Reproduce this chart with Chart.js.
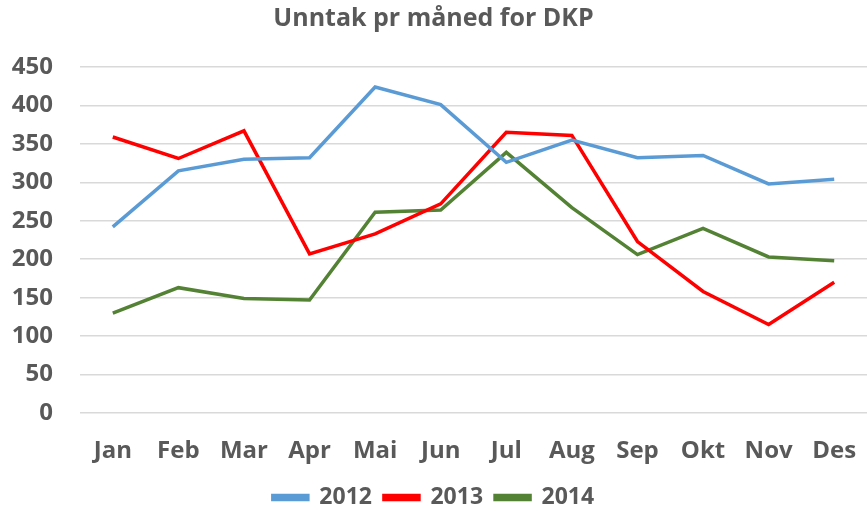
<!DOCTYPE html>
<html>
<head>
<meta charset="utf-8">
<script src="https://cdn.jsdelivr.net/npm/chart.js@4/dist/chart.umd.min.js"></script>
<style>
  html, body { margin: 0; padding: 0; background: #fff; }
  #wrap { width: 867px; height: 511px; }
</style>
</head>
<body>
<div id="wrap"><canvas id="chart" width="867" height="511"></canvas></div>
<script>
var months = ["Jan", "Feb", "Mar", "Apr", "Mai", "Jun", "Jul", "Aug", "Sep", "Okt", "Nov", "Des"];
var data2012 = [242, 315, 330, 332, 424, 401, 326, 355, 332, 335, 298, 304];
var data2013 = [359, 331, 367, 207, 233, 272, 365, 361, 223, 158, 115, 170];
var data2014 = [130, 163, 149, 147, 261, 264, 339, 267, 206, 240, 203, 198];

var textColor = "#595959";
var fontFamily = "'Open Sans', Lato, sans-serif";

var ctx = document.getElementById("chart").getContext("2d");

function series(label, values, color) {
    return {
        label: label,
        data: values,
        borderColor: color,
        backgroundColor: color,
        borderWidth: 3.5,
        pointRadius: 0,
        tension: 0,
        fill: false
    };
}

var chart = new Chart(ctx, {
    type: "line",
    data: {
        labels: months,
        datasets: [
            series("2012", data2012, "#5B9BD5"),
            series("2013", data2013, "#FF0000"),
            series("2014", data2014, "#548235")
        ]
    },
    options: {
        responsive: false,
        animation: false,
        layout: { padding: { left: 0, right: 0, top: 0, bottom: -8 } },
        plugins: {
            title: {
                display: true,
                text: "Unntak pr måned for DKP",
                color: textColor,
                font: { family: fontFamily, size: 25, weight: "bold" },
                padding: { top: 4, bottom: 33 }
            },
            legend: {
                position: "bottom",
                labels: {
                    color: textColor,
                    font: { family: fontFamily, size: 23, weight: "bold" },
                    boxWidth: 35,
                    boxHeight: 4,
                    padding: 12
                }
            },
            tooltip: { enabled: false }
        },
        scales: {
            x: {
                offset: true,
                grid: { display: false, drawTicks: false },
                border: { display: false },
                ticks: {
                    color: textColor,
                    font: { family: fontFamily, size: 24, weight: "bold" },
                    padding: 24,
                    maxRotation: 0
                },
                afterFit: function(scale) {
                    // fixed height, and no extra right padding from tick padding
                    scale.height = 61;
                    scale.paddingLeft = 0;
                    scale.paddingRight = 0;
                }
            },
            y: {
                min: 0,
                max: 450,
                grid: { color: "#D9D9D9", lineWidth: 1.5, drawTicks: false },
                border: { display: false },
                ticks: {
                    stepSize: 50,
                    color: textColor,
                    font: { family: fontFamily, size: 24, weight: "bold" },
                    padding: 27
                },
                afterFit: function(scale) {
                    scale.width = 80;
                }
            }
        }
    }
});
</script>
</body>
</html>
